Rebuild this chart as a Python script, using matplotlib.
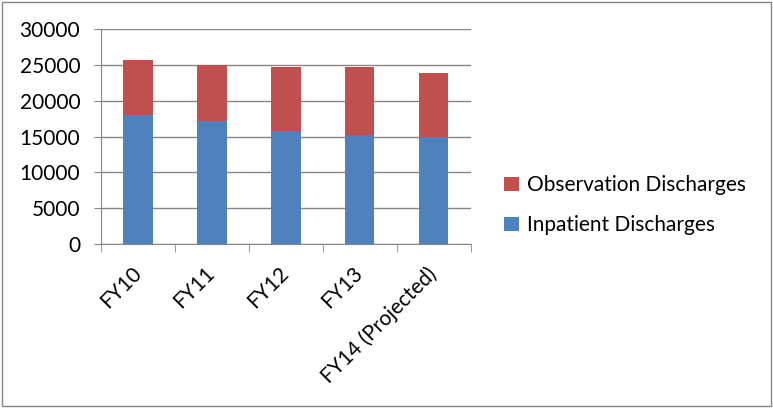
import matplotlib
matplotlib.use("Agg")
import matplotlib.pyplot as plt
import matplotlib.transforms as mtransforms
from matplotlib.patches import Rectangle
import numpy as np

years = ["FY10", "FY11", "FY12", "FY13", "FY14 (Projected)"]
inpatient = [18100, 17200, 15750, 15200, 14900]
observation = [7600, 7800, 8950, 9550, 9050]

plt.rcParams['font.family'] = ['Lato', 'DejaVu Sans']
fs = 15

fig = plt.figure(figsize=(7.73, 4.09), dpi=100)
ax = fig.add_axes([0.1307, 0.4034, 0.478, 0.5246])

x = np.arange(len(years))
b1 = ax.bar(x, inpatient, width=0.4, color='#4F81BD', label='Inpatient Discharges', zorder=3)
b2 = ax.bar(x, observation, width=0.4, bottom=inpatient, color='#C0504D',
            label='Observation Discharges', zorder=3)

ax.set_xlim(-0.5, len(years) - 0.5)
ax.set_ylim(0, 30000)
ax.set_yticks(range(0, 30001, 5000))
ax.tick_params(axis='y', labelsize=fs, length=5, color='#868686', pad=10)
ax.grid(axis='y', color='#868686', linewidth=1, zorder=0)

ax.set_xticks(x)
ax.set_xticklabels(years, rotation=45, ha='right', va='top', rotation_mode='anchor', fontsize=fs)
ax.tick_params(axis='x', which='major', length=0, pad=14)
ax.set_xticks(np.arange(-0.5, len(years), 1), minor=True)
ax.tick_params(axis='x', which='minor', length=6, color='#868686')
# nudge the rotated labels a little to the left
shift = mtransforms.ScaledTranslation(-5 / 72, 0, fig.dpi_scale_trans)
for lbl in ax.get_xticklabels():
    lbl.set_transform(lbl.get_transform() + shift)

for s in ['top', 'right']:
    ax.spines[s].set_visible(False)
for s in ['left', 'bottom']:
    ax.spines[s].set_color('#868686')

ax.legend(handles=[b2, b1], loc='center left', bbox_to_anchor=(1.04, 0.18), frameon=False,
          fontsize=fs, handlelength=0.7, handleheight=0.7, handletextpad=0.4, labelspacing=0.95)

fig.patches.append(Rectangle((0.003, 0.007), 0.994, 0.988, transform=fig.transFigure,
                             fill=False, edgecolor='#868686', linewidth=1))

fig.savefig("out.png", dpi=100)
